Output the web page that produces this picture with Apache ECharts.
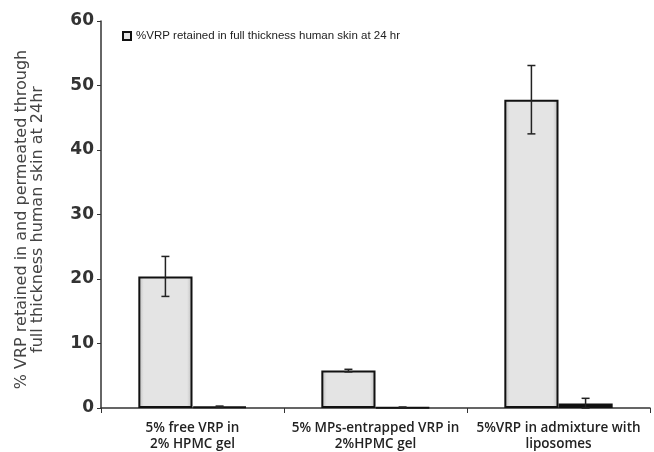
<!DOCTYPE html>
<html>
<head>
<meta charset="utf-8">
<script src="https://cdn.jsdelivr.net/npm/echarts@6/dist/echarts.min.js"></script>
<style>
  html, body { margin: 0; padding: 0; background: #fff; }
  #chart { width: 654px; height: 452px; }
</style>
</head>
<body>
<div id="chart"></div>
<script>
// Formulation groups on the x axis
var categories = [
  '5% free VRP in\n2% HPMC gel',
  '5% MPs-entrapped VRP in\n2%HPMC gel',
  '5%VRP in admixture with\nliposomes'
];
// % VRP retained in full thickness human skin at 24 hr (mean, SD)
var retainedMean = [20.4, 5.8, 47.8];
var retainedSD = [3.1, 0.2, 5.3];
// % VRP permeated through the skin at 24 hr (mean, SD)
var permeatedMean = [0.2, 0.1, 0.7];
var permeatedSD = [0.1, 0.05, 0.8];
// y axis ticks
var yTicks = [0, 10, 20, 30, 40, 50, 60];

var retainedName = '%VRP retained in full thickness human skin at 24 hr';
var permeatedName = '%VRP permeated through full thickness human skin at 24 hr';

var chart = echarts.init(document.getElementById('chart'));

var barShare = 0.296; // fraction of a category band taken by one bar

function errorSeries(means, sds, side) {
  return {
    type: 'custom',
    z: 5,
    silent: true,
    data: means.map(function (m, i) { return [i, m, sds[i]]; }),
    renderItem: function (params, api) {
      var idx = api.value(0), m = api.value(1), sd = api.value(2);
      var band = api.size([1, 0])[0];
      var dx = side * band * barShare / 2;
      var top = api.coord([idx, m + sd]);
      var bot = api.coord([idx, Math.max(m - sd, 0)]);
      var x = top[0] + dx;
      var cap = 4;
      var st = { stroke: '#222', lineWidth: 1.5 };
      return {
        type: 'group',
        children: [
          { type: 'line', shape: { x1: x, y1: top[1], x2: x, y2: bot[1] }, style: st },
          { type: 'line', shape: { x1: x - cap, y1: top[1], x2: x + cap, y2: top[1] }, style: st },
          { type: 'line', shape: { x1: x - cap, y1: bot[1], x2: x + cap, y2: bot[1] }, style: st }
        ]
      };
    }
  };
}

var grayFill = new echarts.graphic.LinearGradient(0, 0, 1, 0, [
  { offset: 0, color: '#bcbcbc' },
  { offset: 0.1, color: '#e4e4e4' },
  { offset: 0.9, color: '#e4e4e4' },
  { offset: 1, color: '#bcbcbc' }
]);

chart.setOption({
  animation: false,
  backgroundColor: '#fff',
  grid: { left: 101, right: 4, top: 21, bottom: 42 },
  legend: {
    data: [retainedName],
    left: 117,
    top: 25,
    itemWidth: 8,
    itemHeight: 8,
    itemGap: 3,
    icon: 'rect',
    textStyle: { fontFamily: 'Liberation Sans Narrow, Liberation Sans', fontSize: 11.5, color: '#222' }
  },
  xAxis: {
    type: 'category',
    data: categories,
    axisLine: { lineStyle: { color: '#333', width: 1.5 } },
    axisTick: { show: true, length: 5, lineStyle: { color: '#333' } },
    axisLabel: {
      fontFamily: 'Open Sans', fontSize: 13.5, fontWeight: 600, color: '#222',
      margin: 12, lineHeight: 16, interval: 0
    }
  },
  yAxis: {
    type: 'value',
    min: 0, max: 60, interval: 10,
    name: '% VRP retained in and permeated through\nfull thickness human skin at 24hr',
    nameLocation: 'middle',
    nameRotate: 90,
    nameGap: 55,
    nameTextStyle: {
      fontFamily: 'DejaVu Sans', fontSize: 16, color: '#444', lineHeight: 16,
      padding: [0, 10, 0, 0]
    },
    splitLine: { show: false },
    axisLine: { show: true, lineStyle: { color: '#333', width: 1.5 } },
    axisTick: { show: true, length: 4, lineStyle: { color: '#333' } },
    axisLabel: {
      fontFamily: 'DejaVu Sans', fontSize: 17, fontWeight: 'bold', color: '#333', margin: 7,
      formatter: function (v) { return yTicks.indexOf(v) >= 0 ? String(v) : ''; }
    }
  },
  series: [
    {
      name: retainedName,
      type: 'bar',
      data: retainedMean,
      barWidth: (barShare * 100) + '%',
      barGap: '0%',
      itemStyle: { color: grayFill, borderColor: '#111', borderWidth: 2 }
    },
    {
      name: permeatedName,
      type: 'bar',
      data: permeatedMean,
      barWidth: (barShare * 100) + '%',
      barGap: '0%',
      itemStyle: { color: '#111', borderColor: '#111', borderWidth: 2 }
    },
    errorSeries(retainedMean, retainedSD, -1),
    errorSeries(permeatedMean, permeatedSD, 1)
  ]
});
</script>
</body>
</html>
